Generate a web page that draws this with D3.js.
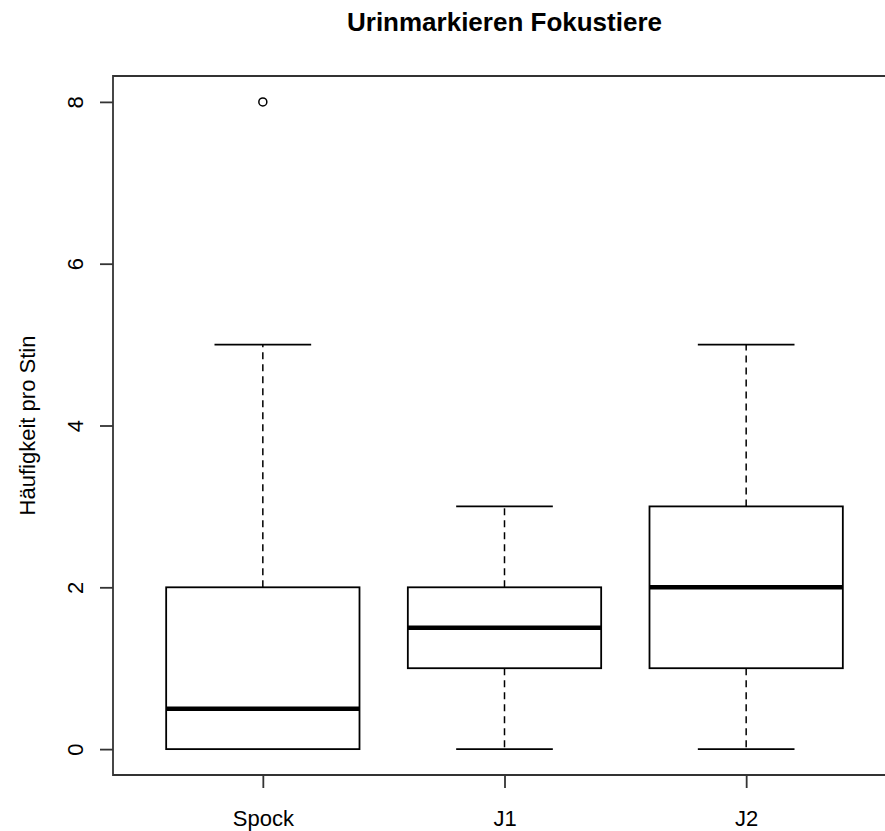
<!DOCTYPE html>
<html>
<head>
<meta charset="utf-8">
<script src="https://cdn.jsdelivr.net/npm/d3@7"></script>
<style>
  html, body { margin: 0; background: #fff; overflow: hidden; }
  svg { display: block; }
  text { font-family: "Liberation Sans", Arial, sans-serif; fill: #000; }
</style>
</head>
<body>
<div id="chart"></div>
<script>
// box statistics
var groups = ["Spock", "J1", "J2"];
var whiskerLow = [0, 0, 0];
var q1 = [0, 1, 1];
var medians = [0.5, 1.5, 2];
var q3 = [2, 2, 3];
var whiskerHigh = [5, 3, 5];
var outliers = [[8], [], []];
var yTicks = [0, 2, 4, 6, 8];

var svgWidth = 885;
var svgHeight = 831;

// plot region (R style, 4% padding on the data range); right edge lies past the picture
var plot = { left: 113, top: 76, bottom: 775, right: 896 };

var svg = d3.select("#chart").append("svg")
  .attr("width", svgWidth)
  .attr("height", svgHeight);

var x = d3.scaleLinear()
  .domain([0.38, 3.62])
  .range([plot.left, plot.right]);

var y = d3.scaleLinear()
  .domain([-0.32, 8.32])
  .range([plot.bottom, plot.top]);

var boxHalf = 0.4, capHalf = 0.2;

var data = groups.map(function(g, i) {
  return { name: g, pos: i + 1, lo: whiskerLow[i], q1: q1[i], med: medians[i],
           q3: q3[i], hi: whiskerHigh[i], out: outliers[i] };
});

var boxes = svg.selectAll("g.box")
  .data(data)
  .enter()
  .append("g")
  .attr("class", "box");

// dashed whiskers
boxes.append("line")
  .attr("x1", d => x(d.pos)).attr("x2", d => x(d.pos))
  .attr("y1", d => y(d.q3)).attr("y2", d => y(d.hi))
  .attr("stroke", "#000").attr("stroke-width", 1.5)
  .attr("stroke-dasharray", "7,5");
boxes.append("line")
  .attr("x1", d => x(d.pos)).attr("x2", d => x(d.pos))
  .attr("y1", d => y(d.q1)).attr("y2", d => y(d.lo))
  .attr("stroke", "#000").attr("stroke-width", 1.5)
  .attr("stroke-dasharray", "7,5");

// caps
boxes.append("line")
  .attr("x1", d => x(d.pos - capHalf)).attr("x2", d => x(d.pos + capHalf))
  .attr("y1", d => y(d.hi)).attr("y2", d => y(d.hi))
  .attr("stroke", "#000").attr("stroke-width", 1.8);
boxes.append("line")
  .attr("x1", d => x(d.pos - capHalf)).attr("x2", d => x(d.pos + capHalf))
  .attr("y1", d => y(d.lo)).attr("y2", d => y(d.lo))
  .attr("stroke", "#000").attr("stroke-width", 1.8);

// box
boxes.append("rect")
  .attr("x", d => x(d.pos - boxHalf))
  .attr("width", d => x(d.pos + boxHalf) - x(d.pos - boxHalf))
  .attr("y", d => y(d.q3))
  .attr("height", d => y(d.q1) - y(d.q3))
  .attr("fill", "#fff")
  .attr("stroke", "#000").attr("stroke-width", 1.8);

// median
boxes.append("line")
  .attr("x1", d => x(d.pos - boxHalf)).attr("x2", d => x(d.pos + boxHalf))
  .attr("y1", d => y(d.med)).attr("y2", d => y(d.med))
  .attr("stroke", "#000").attr("stroke-width", 4.5);

// outliers
boxes.selectAll("circle")
  .data(d => d.out.map(v => ({ pos: d.pos, v: v })))
  .enter()
  .append("circle")
  .attr("cx", d => x(d.pos))
  .attr("cy", d => y(d.v))
  .attr("r", 4)
  .attr("fill", "none")
  .attr("stroke", "#000").attr("stroke-width", 1.5);

// frame: top, left, bottom (the right side is off the picture)
svg.append("path")
  .attr("d", `M${plot.right + 20},${plot.top}H${plot.left}V${plot.bottom}H${plot.right + 20}`)
  .attr("fill", "none")
  .attr("stroke", "#333").attr("stroke-width", 1.8);

// y axis
var leftAxis = d3.axisLeft(y).tickValues(yTicks).tickSize(13).tickPadding(0).tickFormat(d3.format("d"));
var yAxis = svg.append("g")
  .attr("transform", `translate(${plot.left}, 0)`)
  .call(leftAxis);
yAxis.select(".domain").remove();
yAxis.selectAll(".tick line").attr("stroke", "#333").attr("stroke-width", 1.8);
yAxis.selectAll(".tick text")
  .attr("x", 0).attr("y", 0).attr("dy", null)
  .attr("transform", "translate(-30, 0) rotate(-90)")
  .attr("text-anchor", "middle")
  .attr("font-size", "22px")
  .attr("font-family", "Liberation Sans, Arial, sans-serif")
  .attr("fill", "#000");

// x axis
var bottomAxis = d3.axisBottom(x).tickValues(data.map(d => d.pos)).tickSize(13).tickPadding(0)
  .tickFormat(function(d) { return groups[d - 1]; });
var xAxis = svg.append("g")
  .attr("transform", `translate(0, ${plot.bottom})`)
  .call(bottomAxis);
xAxis.select(".domain").remove();
xAxis.selectAll(".tick line").attr("stroke", "#333").attr("stroke-width", 1.8);
xAxis.selectAll(".tick text")
  .attr("y", 51).attr("dy", null)
  .attr("font-size", "22px")
  .attr("font-family", "Liberation Sans, Arial, sans-serif")
  .attr("fill", "#000");

// title
svg.append("text")
  .attr("x", (plot.left + plot.right) / 2)
  .attr("y", 31)
  .attr("text-anchor", "middle")
  .attr("font-size", "26px")
  .attr("font-weight", "bold")
  .text("Urinmarkieren Fokustiere");

// y axis title
svg.append("text")
  .attr("transform", `translate(35, ${(plot.top + plot.bottom) / 2}) rotate(-90)`)
  .attr("text-anchor", "middle")
  .attr("font-size", "22px")
  .text("Häufigkeit pro Stin");
</script>
</body>
</html>
